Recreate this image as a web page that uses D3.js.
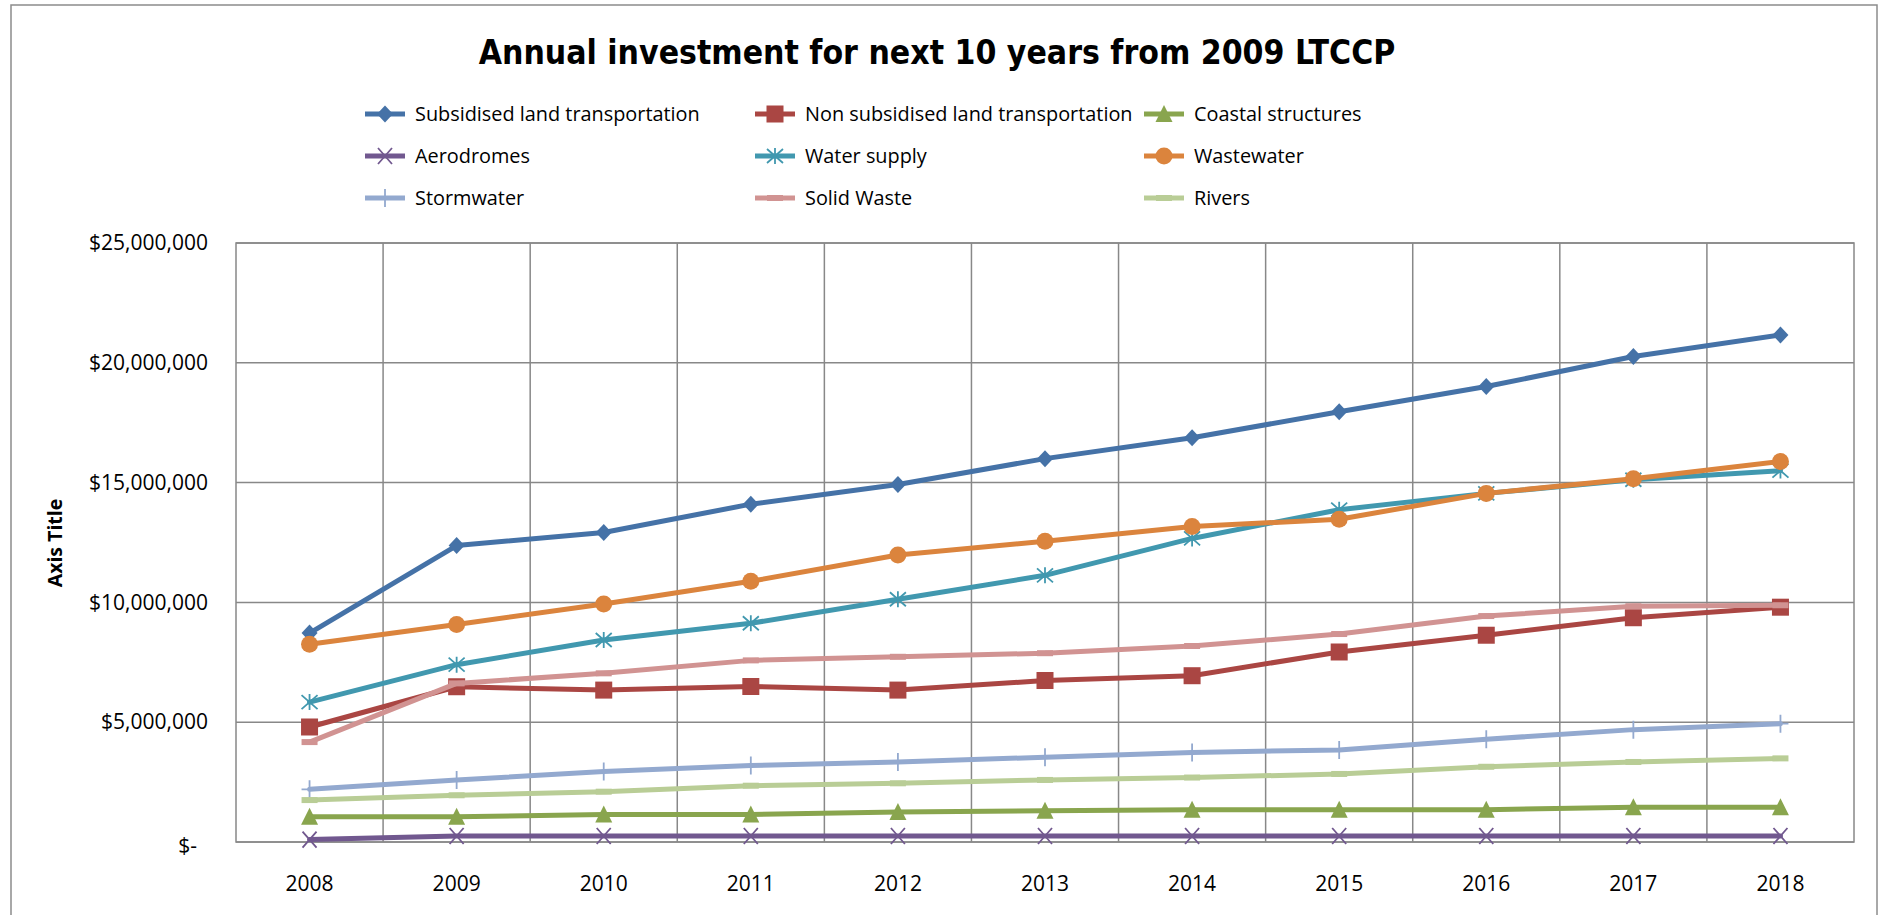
<!DOCTYPE html>
<html>
<head>
<meta charset="utf-8">
<script src="https://cdn.jsdelivr.net/npm/d3@7"></script>
<style>
    body { margin: 0; background: #fff; }
    svg { display: block; }
</style>
</head>
<body>
<div id="chart"></div>
<script>
// data (dollars, millions)
var years = ["2008", "2009", "2010", "2011", "2012", "2013", "2014", "2015", "2016", "2017", "2018"];
var seriesNames = ["Subsidised land transportation", "Non subsidised land transportation", "Coastal structures",
    "Aerodromes", "Water supply", "Wastewater", "Stormwater", "Solid Waste", "Rivers"];
var subsidised = [8.72, 12.37, 12.92, 14.1, 14.92, 16.0, 16.87, 17.96, 19.01, 20.26, 21.16];
var nonSubsidised = [4.8, 6.48, 6.34, 6.49, 6.34, 6.74, 6.94, 7.93, 8.63, 9.36, 9.8];
var coastal = [1.05, 1.05, 1.15, 1.15, 1.25, 1.3, 1.35, 1.35, 1.35, 1.45, 1.45];
var aerodromes = [0.1, 0.25, 0.25, 0.25, 0.25, 0.25, 0.25, 0.25, 0.25, 0.25, 0.25];
var waterSupply = [5.84, 7.4, 8.43, 9.13, 10.13, 11.13, 12.67, 13.87, 14.55, 15.12, 15.5];
var wastewater = [8.25, 9.08, 9.93, 10.88, 11.98, 12.55, 13.17, 13.47, 14.55, 15.16, 15.88];
var stormwater = [2.2, 2.59, 2.94, 3.19, 3.34, 3.54, 3.74, 3.84, 4.29, 4.69, 4.94];
var solidWaste = [4.17, 6.62, 7.04, 7.58, 7.73, 7.88, 8.18, 8.68, 9.43, 9.84, 9.88];
var rivers = [1.75, 1.95, 2.1, 2.35, 2.45, 2.59, 2.69, 2.84, 3.14, 3.34, 3.49];
var yTicks = [0, 5000000, 10000000, 15000000, 20000000, 25000000];

var seriesValues = [subsidised, nonSubsidised, coastal, aerodromes, waterSupply, wastewater, stormwater, solidWaste, rivers];
var seriesColors = ["#4572A7", "#AA4643", "#89A54E", "#71588F", "#4198AF", "#DB843D", "#93A9CF", "#D19392", "#B9CD96"];
var seriesMarkers = ["diamond", "square", "triangle", "x", "asterisk", "circle", "plus", "dash", "dash"];

var width = 1879, height = 915;
var plot = {left: 236, top: 243, right: 1854, bottom: 842};

var svg = d3.select("#chart").append("svg")
    .attr("width", width)
    .attr("height", height);

// chart area border
svg.append("rect")
    .attr("x", 11).attr("y", 5)
    .attr("width", 1866).attr("height", 940)
    .attr("fill", "#fff")
    .attr("stroke", "#8c8c8c")
    .attr("stroke-width", 1.5);

var x = d3.scaleBand().domain(years).range([plot.left, plot.right]).padding(0);
var y = d3.scaleLinear().domain([0, 25000000]).range([plot.bottom, plot.top]);
var cx = function (yr) { return x(yr) + x.bandwidth() / 2; };

// grid
var grid = svg.append("g").attr("stroke", "#888").attr("stroke-width", 1.5);
yTicks.forEach(function (t) {
    grid.append("line")
        .attr("x1", plot.left).attr("x2", plot.right)
        .attr("y1", y(t)).attr("y2", y(t));
});
years.slice(1).forEach(function (yr) {
    grid.append("line")
        .attr("x1", x(yr)).attr("x2", x(yr))
        .attr("y1", plot.top).attr("y2", plot.bottom);
});
svg.append("rect")
    .attr("x", plot.left).attr("y", plot.top)
    .attr("width", plot.right - plot.left).attr("height", plot.bottom - plot.top)
    .attr("fill", "none").attr("stroke", "#888").attr("stroke-width", 1.5);

// axes
var money = d3.format(",");
var yAxis = d3.axisLeft(y)
    .tickValues(yTicks)
    .tickSize(0)
    .tickPadding(28)
    .tickFormat(function (d) { return d === 0 ? "$-" : "$" + money(d); });
var gy = svg.append("g").attr("transform", "translate(" + plot.left + ",0)").call(yAxis);
gy.select(".domain").remove();
gy.selectAll("text")
    .attr("font-family", "'Open Sans', sans-serif")
    .attr("font-size", 21)
    .attr("fill", "#000");
gy.selectAll(".tick").filter(function (d) { return d === 0; }).select("text")
    .attr("x", -39).attr("dy", "0.5em");

var xAxis = d3.axisBottom(x).tickSize(0).tickPadding(34);
var gx = svg.append("g").attr("transform", "translate(0," + plot.bottom + ")").call(xAxis);
gx.select(".domain").remove();
gx.selectAll("text")
    .attr("font-family", "'Open Sans', sans-serif")
    .attr("font-size", 21)
    .attr("fill", "#000");

svg.append("text")
    .attr("transform", "translate(55,543) rotate(-90)")
    .attr("text-anchor", "middle")
    .attr("dy", "0.35em")
    .attr("font-family", "'Open Sans', sans-serif")
    .attr("font-weight", "bold")
    .attr("font-size", 19.5)
    .text("Axis Title");

// markers
function drawMarker(g, type, color) {
    if (type === "diamond") {
        g.append("path").attr("d", "M0,-8.5L8,0L0,8.5L-8,0Z").attr("fill", color);
    } else if (type === "square") {
        g.append("rect").attr("x", -8.5).attr("y", -8.5).attr("width", 17).attr("height", 17).attr("fill", color);
    } else if (type === "triangle") {
        g.append("path").attr("d", "M0,-9L8.5,8L-8.5,8Z").attr("fill", color);
    } else if (type === "circle") {
        g.append("circle").attr("r", 8.5).attr("fill", color);
    } else if (type === "x") {
        g.append("path").attr("d", "M-7,-8L7,8M-7,8L7,-8").attr("stroke", color).attr("stroke-width", 1.8).attr("fill", "none");
    } else if (type === "asterisk") {
        g.append("path").attr("d", "M-8,-7L8,7M-8,7L8,-7M0,-8L0,8").attr("stroke", color).attr("stroke-width", 1.8).attr("fill", "none");
    } else if (type === "plus") {
        g.append("path").attr("d", "M0,-9L0,9M-8,0L8,0").attr("stroke", color).attr("stroke-width", 1.8).attr("fill", "none");
    } else if (type === "dash") {
        g.append("rect").attr("x", -8).attr("y", -3).attr("width", 16).attr("height", 6).attr("fill", color);
    }
}

// series
var line = d3.line()
    .x(function (d, i) { return cx(years[i]); })
    .y(function (d) { return y(d * 1000000); });

seriesValues.forEach(function (vals, s) {
    var g = svg.append("g").attr("class", "series");
    g.append("path")
        .attr("d", line(vals))
        .attr("fill", "none")
        .attr("stroke", seriesColors[s])
        .attr("stroke-width", 5)
        .attr("stroke-linejoin", "round")
        .attr("stroke-linecap", "round");
    vals.forEach(function (v, i) {
        var m = g.append("g").attr("transform", "translate(" + cx(years[i]) + "," + y(v * 1000000) + ")");
        drawMarker(m, seriesMarkers[s], seriesColors[s]);
    });
});

// legend
var legendCols = [365, 755, 1144];
var legendRows = [114, 156, 198];
var legend = svg.append("g");
seriesNames.forEach(function (name, i) {
    var lx = legendCols[i % 3], ly = legendRows[Math.floor(i / 3)];
    var item = legend.append("g").attr("transform", "translate(" + lx + "," + ly + ")");
    item.append("line")
        .attr("x1", 0).attr("x2", 40)
        .attr("stroke", seriesColors[i])
        .attr("stroke-width", 5);
    drawMarker(item.append("g").attr("transform", "translate(20,0)"), seriesMarkers[i], seriesColors[i]);
    item.append("text")
        .attr("class", "legend-label")
        .attr("x", 50)
        .attr("dy", "0.35em")
        .attr("font-family", "'Open Sans', sans-serif")
        .attr("font-size", 19)
        .text(name);
});

// fit legend font to the width
var firstLabel = legend.select(".legend-label").node();
var legendSize = 19 * 285 / firstLabel.getComputedTextLength();
legend.selectAll(".legend-label").attr("font-size", legendSize);

// title
var title = svg.append("text")
    .attr("x", 937)
    .attr("y", 64)
    .attr("text-anchor", "middle")
    .attr("font-family", "'Liberation Sans Narrow', 'DejaVu Sans Condensed', 'Open Sans', sans-serif")
    .attr("font-weight", "bold")
    .attr("font-size", 36)
    .text("Annual investment for next 10 years from 2009 LTCCP");
title.attr("font-size", 36 * 917 / title.node().getComputedTextLength());
</script>
</body>
</html>
